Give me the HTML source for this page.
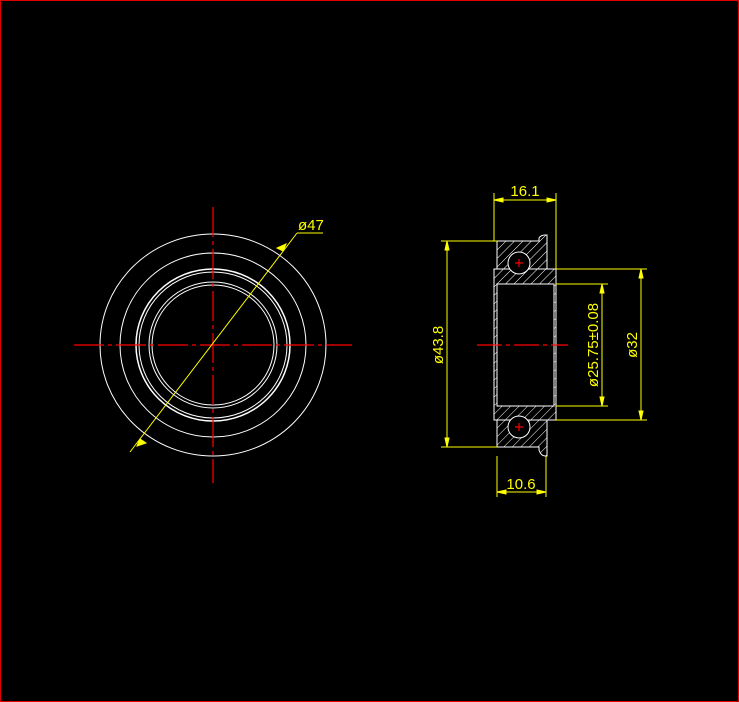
<!DOCTYPE html>
<html><head><style>html,body{margin:0;padding:0;background:#000;}svg{display:block}</style></head>
<body>
<svg width="739" height="702" viewBox="0 0 739 702" xmlns="http://www.w3.org/2000/svg" font-family="Liberation Sans, sans-serif">
<defs>
<pattern id="h" patternUnits="userSpaceOnUse" width="6" height="6" patternTransform="rotate(45)">
<rect width="6" height="6" fill="#000"/><line x1="0" y1="0" x2="0" y2="6" stroke="#fff" stroke-width="1"/>
</pattern>
</defs>
<rect x="0.5" y="0.5" width="738" height="701" fill="#000" stroke="#e00000" stroke-width="1"/>
<g fill="none" stroke="#fff" stroke-width="1">
<ellipse cx="213" cy="345" rx="113" ry="111"/>
<ellipse cx="213" cy="345" rx="93" ry="92"/>
<ellipse cx="213" cy="345" rx="77" ry="76" stroke-width="1.5"/>
<ellipse cx="213" cy="345" rx="74" ry="73"/>
<ellipse cx="213" cy="345" rx="64" ry="63"/>
<ellipse cx="213" cy="345" rx="61" ry="60"/>
</g>
<g stroke="#ff0000" stroke-width="1.2" stroke-dasharray="30,4,4,4">
<line x1="74" y1="345" x2="352" y2="345"/>
<line x1="213" y1="207" x2="213" y2="483"/>
</g>
<g stroke="#ffff00" stroke-width="1" fill="#ffff00">
<line x1="130" y1="452" x2="297" y2="233"/>
<line x1="297" y1="233" x2="323" y2="233"/>
<polygon points="140,439 137,446 146,443"/>
<polygon points="283,251 286,244 277,248"/>
</g>
<text x="298" y="230" fill="#ffff00" font-size="15">ø47</text>
<g stroke="#fff" stroke-width="1">
<rect x="494" y="269" width="62" height="151" fill="url(#h)"/>
<rect x="497" y="284" width="57" height="122" fill="#000"/>
<path d="M497,241 H539 V238 Q541,235 545,235 H547 V269 H497 Z" fill="url(#h)"/>
<path d="M497,447 H539 V450 Q541,456 545,456 H547 V420 H497 Z" fill="url(#h)"/>
<circle cx="519" cy="263" r="11" fill="#000"/>
<circle cx="519" cy="427" r="11" fill="#000"/>
</g>
<g stroke="#ff0000" stroke-width="1.2">
<line x1="515" y1="263" x2="523" y2="263"/><line x1="519" y1="259" x2="519" y2="267"/>
<line x1="515" y1="427" x2="523" y2="427"/><line x1="519" y1="423" x2="519" y2="431"/>
<line x1="477" y1="345" x2="568" y2="345" stroke-dasharray="25,4,4,4"/>
</g>
<g stroke="#ffff00" stroke-width="1" fill="#ffff00">
<line x1="494" y1="193" x2="494" y2="241"/><line x1="556" y1="193" x2="556" y2="269"/>
<line x1="494" y1="200" x2="556" y2="200"/>
<polygon points="494,200 503,198 503,202"/><polygon points="556,200 547,198 547,202"/>
<line x1="441" y1="241" x2="497" y2="241"/><line x1="441" y1="447" x2="497" y2="447"/>
<line x1="447" y1="241" x2="447" y2="447"/>
<polygon points="447,241 445,250 449,250"/><polygon points="447,447 445,438 449,438"/>
<line x1="556" y1="269" x2="647" y2="269"/><line x1="556" y1="420" x2="647" y2="420"/>
<line x1="641" y1="269" x2="641" y2="420"/>
<polygon points="641,269 639,278 643,278"/><polygon points="641,420 639,411 643,411"/>
<line x1="556" y1="284" x2="608" y2="284"/><line x1="556" y1="406" x2="608" y2="406"/>
<line x1="602" y1="284" x2="602" y2="406"/>
<polygon points="602,284 600,293 604,293"/><polygon points="602,406 600,397 604,397"/>
<line x1="497" y1="456" x2="497" y2="497"/><line x1="546" y1="456" x2="546" y2="497"/>
<line x1="497" y1="492" x2="546" y2="492"/>
<polygon points="497,492 506,490 506,494"/><polygon points="546,492 537,490 537,494"/>
</g>
<g fill="#ffff00" font-size="15">
<text x="525" y="196" text-anchor="middle">16.1</text>
<text x="521" y="489" text-anchor="middle">10.6</text>
<text transform="translate(443,345) rotate(-90)" text-anchor="middle">ø43.8</text>
<text transform="translate(637,345) rotate(-90)" text-anchor="middle">ø32</text>
<text transform="translate(598,345) rotate(-90)" text-anchor="middle">ø25.75±0.08</text>
</g>
</svg>
</body></html>
